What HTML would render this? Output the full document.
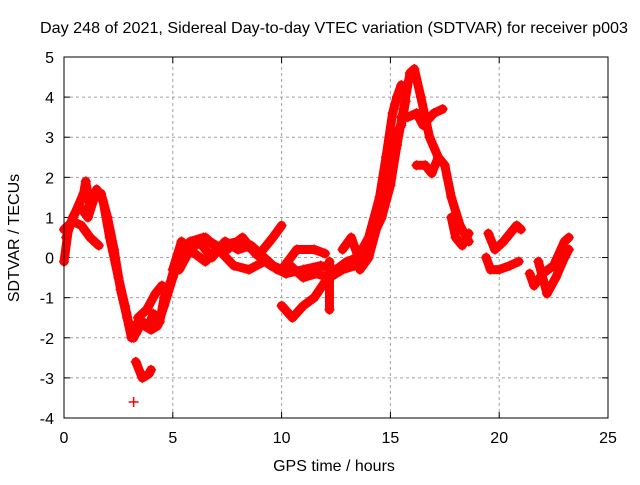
<!DOCTYPE html>
<html><head><meta charset="utf-8"><style>
body{margin:0;background:#fff}
svg text{font-family:"Liberation Sans",sans-serif;font-size:16px;fill:#000}
</style></head><body>
<svg id="chart" width="640" height="480">
<text x="334" y="33" text-anchor="middle" textLength="588" lengthAdjust="spacingAndGlyphs">Day 248 of 2021, Sidereal Day-to-day VTEC variation (SDTVAR) for receiver p003</text>
<text x="334" y="471" text-anchor="middle">GPS time / hours</text>
<text transform="translate(19,238) rotate(-90)" text-anchor="middle">SDTVAR / TECUs</text>
<g id="grid"></g><g id="ticks"></g><g id="series"></g>
<rect x="64" y="57" width="544" height="361" fill="none" stroke="#000" stroke-width="1"/>
</svg>
<script>
const xTicks=[0,5,10,15,20,25];
const yTicks=[-4,-3,-2,-1,0,1,2,3,4,5];
const track1=[[0,-0.1],[0.2,0.7],[0.5,1.1],[0.9,1.6],[1.0,1.9],[1.2,1.2],[1.5,1.7],[1.8,1.4],[2.1,0.5],[2.5,-0.5],[2.8,-1.2],[3.0,-1.7],[3.2,-2.0],[3.4,-1.6],[3.7,-1.7],[4.0,-1.8],[4.3,-1.7],[4.6,-1.2],[5.0,-0.5],[5.4,0.2],[5.8,0.4],[6.4,0.5],[7.0,0.3],[7.5,0.2],[8.2,0.5],[8.8,0.1],[9.5,-0.2],[10.2,-0.4],[11,-0.3],[11.8,-0.2],[12.5,-0.3],[13.2,-0.1],[14,0.3],[14.6,1.0],[15.0,1.8],[15.3,2.8],[15.6,3.7],[15.9,4.6],[16.1,4.7],[16.4,4.0],[16.8,3.0],[17.2,2.5],[17.5,2.3],[17.8,1.5],[18.2,0.8],[18.6,0.4]];
const track2=[[0,0.7],[0.4,0.9],[0.8,0.8],[1.2,0.5],[1.6,0.3]];
const track2b=[[0.1,0.5],[0.4,1.0],[0.7,1.3],[1.1,1.0],[1.4,1.5],[1.7,1.6],[2.0,1.0],[2.3,0.2],[2.6,-0.8],[2.9,-1.5],[3.1,-2.0]];
const track3=[[3.3,-2.6],[3.6,-3.0],[3.9,-2.9],[4.0,-2.8]];
const track3b=[[3.2,-3.6]];
const track4=[[3.4,-1.5],[3.8,-1.3],[4.2,-0.9],[4.5,-0.7]];
const track4b=[[3.3,-1.9],[3.6,-1.6],[3.9,-1.7],[4.1,-1.4],[4.4,-1.6],[4.6,-1.0],[4.9,-0.6],[5.1,-0.2]];
const track5=[[5.0,-0.3],[5.4,0.4],[6,0.1],[6.5,-0.1],[7.2,0.3],[8,0.4],[9,0.1],[9.6,0.5],[10.0,0.8]];
const track6=[[5.3,-0.3],[5.8,0.2],[6.5,0.5],[7.1,0.2],[7.8,-0.2],[8.5,-0.3],[9.2,-0.1],[10,-0.3],[10.7,0.2],[11.5,0.2],[12,0.1]];
const track6b=[[5.5,0.3],[6.2,0.4],[6.8,0.0],[7.4,0.4],[8.0,0.2],[8.6,0.3],[9.2,0.0],[9.8,-0.3],[10.4,-0.2],[11.0,-0.5],[11.6,-0.4],[12.2,-0.5],[12.8,-0.3],[13.4,-0.2],[13.9,0.0]];
const track7=[[10,-1.2],[10.5,-1.5],[11,-1.2],[11.5,-1.0],[12,-0.6],[12.5,-0.3],[13,-0.1],[13.5,0],[14,0.5],[14.5,1.5],[14.8,2.5],[15.1,3.6],[15.3,4.0],[15.5,4.3]];
const track7b=[[13.6,-0.3],[14.0,0.0],[14.4,0.8],[14.7,1.5],[15.0,2.4],[15.2,3.0],[15.5,3.3],[15.7,3.9]];
const track8=[[12.2,-0.1],[12.2,-1.3]];
const track8b=[[12.8,0.2],[13.2,0.5],[13.6,-0.1]];
const track9=[[15.5,3.5],[15.8,3.5],[16.2,3.6],[16.5,3.3],[17,3.6],[17.4,3.7]];
const track10=[[16.2,2.3],[16.6,2.3],[16.9,2.1],[17.2,2.5]];
const track11=[[17.8,1.0],[18.0,0.5],[18.3,0.3],[18.6,0.6]];
const track12=[[19.5,0.6],[19.8,0.2],[20.2,0.4],[20.8,0.8],[21.0,0.7]];
const track13=[[19.4,0],[19.6,-0.3],[20,-0.3],[20.5,-0.2],[20.9,-0.1]];
const track14=[[21.4,-0.4],[21.6,-0.7],[22,-0.4],[22.5,-0.2],[23,0.4],[23.2,0.5]];
const track15=[[21.8,-0.1],[22.2,-0.9],[22.6,-0.5],[23,0.0],[23.2,0.2]];
const tracks=[track1,track2,track2b,track3,track3b,track4,track4b,track5,track6,track6b,track7,track7b,track8,track8b,track9,track10,track11,track12,track13,track14,track15];
const NS="http://www.w3.org/2000/svg";
const X0=64,X1=608,Y0=418,Y1=57;
function sx(v){return X0+(v-0)/(25-0)*(X1-X0);}
function sy(v){return Y0-(v+4)/(5+4)*(Y0-Y1);}
const grid=document.getElementById('grid'),ticks=document.getElementById('ticks'),ser=document.getElementById('series');
function mk(tag,attrs,parent){const e=document.createElementNS(NS,tag);for(const k in attrs)e.setAttribute(k,attrs[k]);parent.appendChild(e);return e;}
xTicks.forEach(t=>{
  const x=sx(t);
  if(t>0&&t<25){const g=mk('line',{x1:x,x2:x,y1:Y0,y2:Y1,stroke:'#a0a0a0','stroke-dasharray':'3,3'},grid);
  
  }
  mk('line',{x1:x,x2:x,y1:Y0,y2:Y0-6,stroke:'#000'},ticks);
  mk('line',{x1:x,x2:x,y1:Y1,y2:Y1+6,stroke:'#000'},ticks);
  const tx=mk('text',{x:x,y:Y0+25,'text-anchor':'middle'},ticks);tx.textContent=t;
  
  
});
yTicks.forEach(t=>{
  const y=sy(t);
  if(t>-4&&t<5){const g=mk('line',{x1:X0,x2:X1,y1:y,y2:y,stroke:'#a0a0a0','stroke-dasharray':'3,3'},grid);
  
  }
  mk('line',{x1:X0,x2:X0+6,y1:y,y2:y,stroke:'#000'},ticks);
  mk('line',{x1:X1,x2:X1-6,y1:y,y2:y,stroke:'#000'},ticks);
  const tx=mk('text',{x:X0-10,y:y+6,'text-anchor':'end'},ticks);tx.textContent=t;
  
  
});
tracks.forEach(tr=>{
  const pts=tr.map(p=>sx(p[0])+','+sy(p[1])).join(' ');
  const pl=mk('polyline',{points:pts,fill:'none',stroke:'#ff0000','stroke-width':9,'stroke-linejoin':'round','stroke-linecap':'round'},ser);
  
  
  tr.forEach(p=>{
    const x=sx(p[0]),y=sy(p[1]);
    const m=mk('path',{d:`M${x-5},${y}H${x+5}M${x},${y-5}V${y+5}`,stroke:'#ff0000','stroke-width':1.5},ser);
    
    
  });
});
</script>
</body></html>
